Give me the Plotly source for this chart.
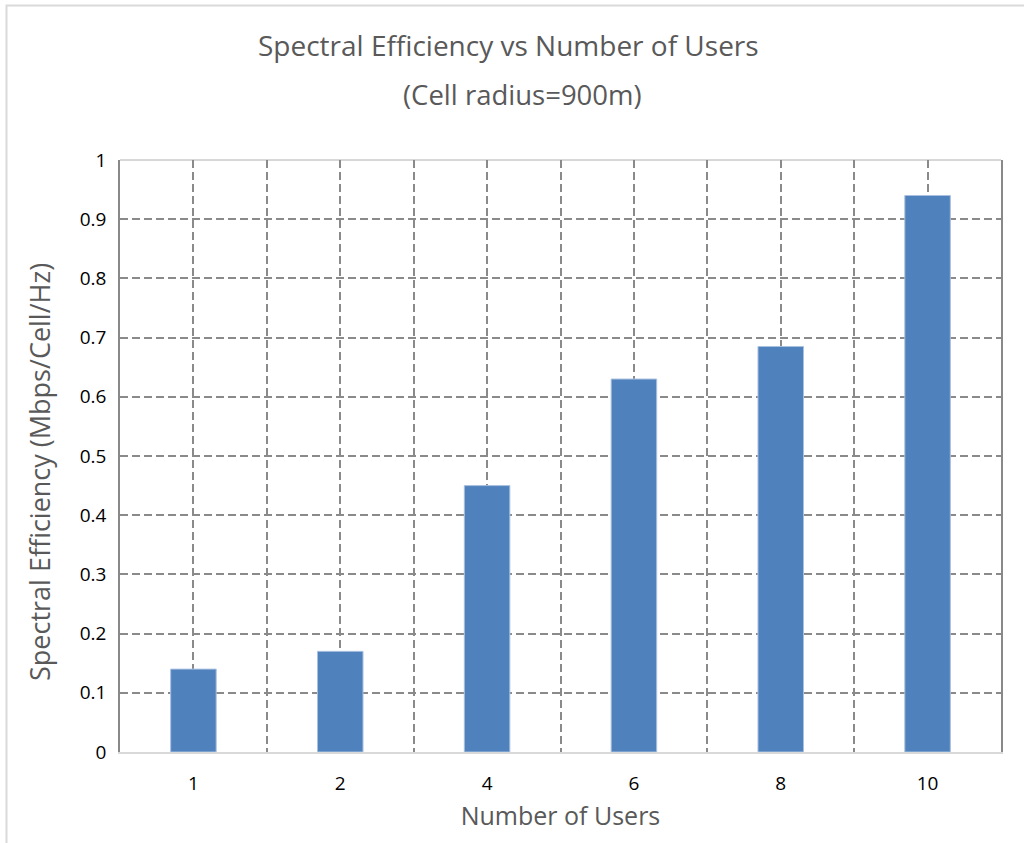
import plotly.graph_objects as go

categories = ["1", "2", "4", "6", "8", "10"]
spectral_eff = [0.14, 0.17, 0.45, 0.63, 0.685, 0.94]
y_ticks = [0, 0.1, 0.2, 0.3, 0.4, 0.5, 0.6, 0.7, 0.8, 0.9, 1]
y_tick_text = ["0", "0.1", "0.2", "0.3", "0.4", "0.5", "0.6", "0.7", "0.8", "0.9", "1"]

xpos = list(range(len(categories)))
FONT = "Open Sans"
GRID = "#8a8a8a"

fig = go.Figure()
fig.add_trace(go.Bar(
    x=xpos, y=spectral_eff, width=0.31,
    marker=dict(color="#4f81bd", line=dict(color="#a9c0df", width=1)),
    hoverinfo="y",
))

fig.update_layout(
    width=1024, height=843,
    margin=dict(l=120, r=23, t=160, b=91),
    paper_bgcolor="white", plot_bgcolor="white",
    showlegend=False,
    font=dict(family=FONT, color="#000000"),
    xaxis=dict(
        range=[-0.5, len(categories) - 0.5],
        tickmode="array", tickvals=xpos, ticktext=categories,
        tickfont=dict(size=19, color="#000000", family=FONT),
        ticks="", ticklabelstandoff=13,
        showgrid=True, gridcolor=GRID, griddash="8px,4px", gridwidth=1.5,
        minor=dict(tickvals=[i - 0.5 for i in range(len(categories) + 1)],
                   showgrid=True, gridcolor=GRID, griddash="8px,4px", gridwidth=1.5, ticks=""),
        showline=True, linecolor="#d9d9d9", linewidth=2,
        zeroline=False, fixedrange=True,
        title=dict(text="Number of Users", font=dict(size=25, color="#595959", family=FONT), standoff=13),
    ),
    yaxis=dict(
        range=[0, 1],
        tickmode="array", tickvals=y_ticks, ticktext=y_tick_text,
        tickfont=dict(size=19, color="#000000", family=FONT),
        ticks="", ticklabelstandoff=8,
        showgrid=True, gridcolor=GRID, griddash="8px,4px", gridwidth=1.5,
        showline=True, linecolor="#898989", linewidth=1.5, mirror=True,
        zeroline=False, fixedrange=True,
    ),
    annotations=[
        dict(text="Spectral Efficiency vs Number of Users", xref="paper", yref="paper",
             x=(508 - 120) / 881, y=(752 - 45) / 592, xanchor="center", yanchor="middle", showarrow=False,
             font=dict(size=28, color="#595959", family=FONT)),
        dict(text="(Cell radius=900m)", xref="paper", yref="paper",
             x=(522 - 120) / 881, y=(752 - 95) / 592, xanchor="center", yanchor="middle", showarrow=False,
             font=dict(size=27.5, color="#595959", family=FONT)),
        dict(text="Spectral Efficiency (Mbps/Cell/Hz)", xref="paper", yref="paper", textangle=-90,
             x=(40 - 120) / 881, y=(752 - 472) / 592, xanchor="center", yanchor="middle", showarrow=False,
             font=dict(size=27, color="#595959", family=FONT)),
    ],
    shapes=[
        dict(type="rect", xref="paper", yref="paper",
             x0=(6.5 - 120) / 881, x1=1.1, y0=-0.3, y1=(752 - 5.5) / 592,
             line=dict(color="#d9d9d9", width=2), layer="below"),
        dict(type="line", xref="paper", yref="paper", x0=0, x1=1, y0=1, y1=1,
             line=dict(color="#b0b0b0", width=1), layer="below"),
    ],
)

fig.write_html("out.html", config={"displayModeBar": False},
               post_script="document.body.style.margin='0';")
